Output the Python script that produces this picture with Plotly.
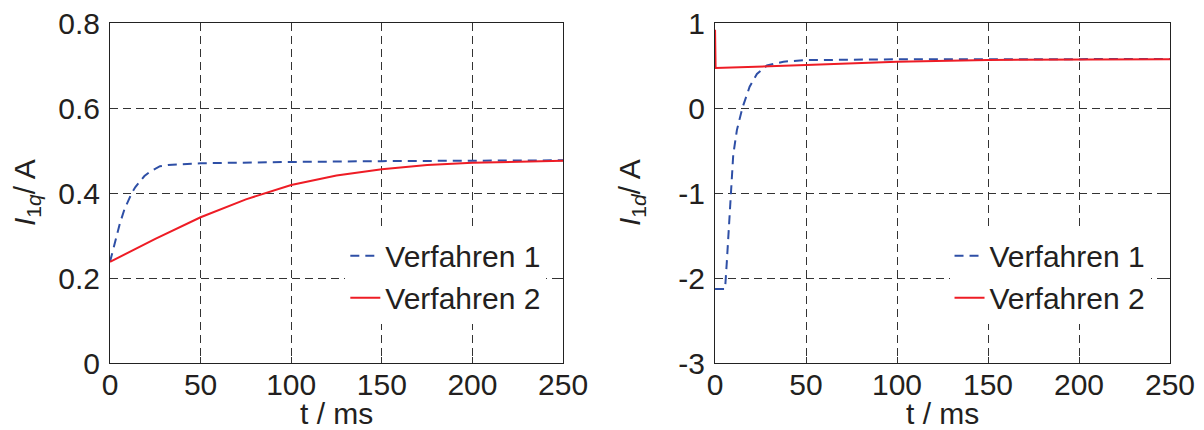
import plotly.graph_objects as go
from plotly.subplots import make_subplots

# Left: I_1q
t_q1 = [0, 2, 4, 5.5, 8, 10, 12, 14, 16.6, 19, 22, 25, 27.6, 32, 38, 45, 50, 75, 100, 150, 200, 250]
i_q1 = [0.238, 0.272, 0.305, 0.329, 0.362, 0.382, 0.400, 0.414, 0.427, 0.440, 0.450, 0.457, 0.463, 0.466, 0.468, 0.469, 0.470, 0.472, 0.473, 0.475, 0.476, 0.477]
t_q2 = [0, 25, 50, 75, 100, 125, 150, 175, 200, 225, 250]
i_q2 = [0.238, 0.292, 0.343, 0.385, 0.419, 0.441, 0.456, 0.466, 0.471, 0.474, 0.476]

# Right: I_1d
t_d1 = [0, 5.5, 6.5, 7.5, 8.6, 10, 12, 15, 19, 23, 28.5, 37.6, 50, 75, 100, 150, 200, 250]
i_d1 = [-2.13, -2.13, -1.8, -1.45, -1.0, -0.55, -0.26, 0.0, 0.25, 0.40, 0.50, 0.545, 0.563, 0.570, 0.573, 0.574, 0.575, 0.576]
t_d2 = [0, 0.3, 50, 100, 150, 200, 250]
i_d2 = [0.92, 0.47, 0.505, 0.545, 0.565, 0.570, 0.574]

x_ticks = [0, 50, 100, 150, 200, 250]
yq_ticks = [0, 0.2, 0.4, 0.6, 0.8]
yd_ticks = [-3, -2, -1, 0, 1]
x_title = "t / ms"
yq_title = "<i>I</i><sub>1<i>q</i></sub>/ A"
yd_title = "<i>I</i><sub>1<i>d</i></sub>/ A"

BLUE = "#2e4fa6"
RED = "#ee1c25"
FONT = "Liberation Sans, Arial, sans-serif"
TXT = "#231f20"
FS = 30

fig = make_subplots(rows=1, cols=2, horizontal_spacing=0.1434)

fig.add_trace(go.Scatter(x=t_q1, y=i_q1, mode="lines", name="Verfahren 1",
                         line=dict(color=BLUE, width=2, dash="9px,6px"), legend="legend"), 1, 1)
fig.add_trace(go.Scatter(x=t_q2, y=i_q2, mode="lines", name="Verfahren 2",
                         line=dict(color=RED, width=2), legend="legend"), 1, 1)
fig.add_trace(go.Scatter(x=t_d1, y=i_d1, mode="lines", name="Verfahren 1",
                         line=dict(color=BLUE, width=2, dash="9px,6px"), legend="legend2"), 1, 2)
fig.add_trace(go.Scatter(x=t_d2, y=i_d2, mode="lines", name="Verfahren 2",
                         line=dict(color=RED, width=2), legend="legend2"), 1, 2)

axis_common = dict(showline=True, mirror="ticks", linecolor="#222222", linewidth=1,
                   showgrid=True, gridcolor="#333333", gridwidth=1, griddash="8px,5px",
                   zeroline=False, ticks="inside", ticklen=6, tickcolor="#333333", tickwidth=1,
                   automargin=False,
                   tickfont=dict(size=FS, color=TXT, family=FONT))

fig.update_xaxes(**axis_common, range=[0, 250], tickvals=x_ticks, ticklabelstandoff=-5)
fig.update_yaxes(**axis_common, ticklabelstandoff=3)
fig.update_yaxes(range=[0, 0.8], tickvals=yq_ticks, ticktext=["0", "0.2", "0.4", "0.6", "0.8"], row=1, col=1)
fig.update_yaxes(range=[-3, 1], tickvals=yd_ticks, ticktext=["-3", "-2", "-1", "0", "1"], row=1, col=2)

fig.update_xaxes(domain=[0, 0.4274], row=1, col=1)
fig.update_xaxes(domain=[0.5708, 1], row=1, col=2)

W, H = 1204, 430
ML, MR, MT, MB = 110, 34, 23, 67
pw, ph = W - ML - MR, H - MT - MB

def px(xp):
    return (xp - ML) / pw

def py(yp):
    return (H - MB - yp) / ph

tfont = dict(size=FS, color=TXT, family=FONT)
annots = [
    dict(text=x_title, x=px(336.5), y=py(414), xref="paper", yref="paper",
         xanchor="center", yanchor="middle", showarrow=False, font=tfont, borderpad=0),
    dict(text=x_title, x=px(942), y=py(414), xref="paper", yref="paper",
         xanchor="center", yanchor="middle", showarrow=False, font=tfont, borderpad=0),
    dict(text=yq_title, x=px(26), y=py(193), xref="paper", yref="paper", textangle=-90,
         xanchor="center", yanchor="middle", showarrow=False, font=tfont),
    dict(text=yd_title, x=px(631), y=py(193), xref="paper", yref="paper", textangle=-90,
         xanchor="center", yanchor="middle", showarrow=False, font=tfont),
]

leg_common = dict(bgcolor="white", borderwidth=0, font=dict(size=FS, color=TXT, family=FONT),
                  xanchor="left", yanchor="top", tracegroupgap=0, itemwidth=30)
fig.update_layout(
    width=W, height=H,
    margin=dict(l=ML, r=MR, t=MT, b=MB, autoexpand=False),
    paper_bgcolor="white", plot_bgcolor="white",
    font=dict(family=FONT, color=TXT),
    showlegend=True,
    annotations=annots,
    legend=dict(**leg_common, x=0.222, y=0.392),
    legend2=dict(**leg_common, x=0.792, y=0.392),
)

fig.write_html("out.html")
